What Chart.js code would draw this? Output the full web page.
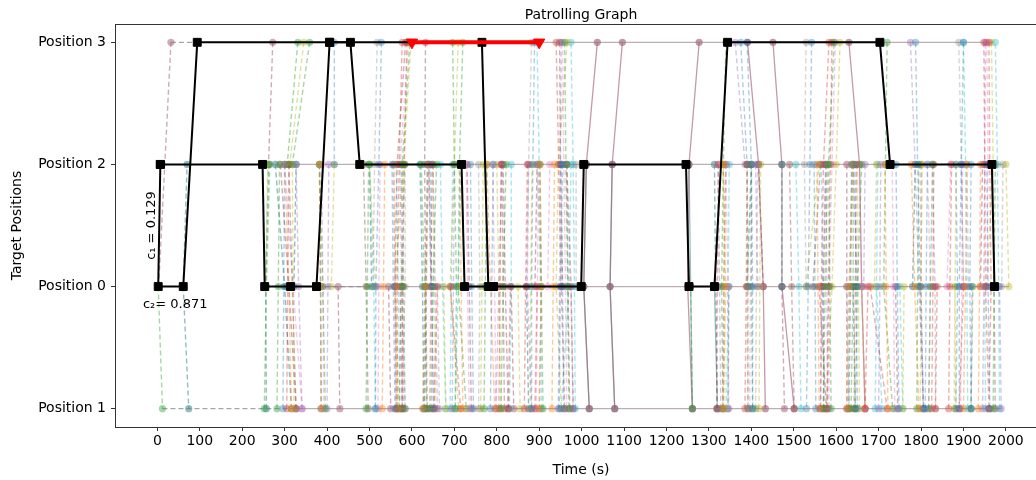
<!DOCTYPE html>
<html>
<head>
<meta charset="utf-8">
<script src="https://cdn.jsdelivr.net/npm/chart.js@4.4.1/dist/chart.umd.min.js"></script>
<style>
  html, body { margin: 0; padding: 0; background: #fff; overflow: hidden; }
  #wrap { width: 1036px; height: 480px; overflow: hidden; position: relative; }
  #chart { position: absolute; left: 0; top: 0; }
</style>
</head>
<body>
<div id="wrap"><canvas id="chart" width="1060" height="480"></canvas></div>
<script>
// Target rows, bottom to top (y index 0..3)
const positionLabels = ['Position 1', 'Position 0', 'Position 2', 'Position 3'];
const timeTicks = [0, 100, 200, 300, 400, 500, 600, 700, 800, 900, 1000,
                   1100, 1200, 1300, 1400, 1500, 1600, 1700, 1800, 1900, 2000];
const timeRange = [-99.85, 2096.85];

// Coverage probabilities of the two cycles
const c1 = 0.129;
const c2 = 0.871;

// Patrol route (two chains sharing the start at Position 2)
const routeA = [[7, 2], [2, 1], [61, 1], [94, 3], [406, 3], [765, 3], [780, 1], [792, 1]];
const routeB = [[7, 2], [248, 2], [253, 1], [314, 1], [375, 1], [406, 3], [455, 3], [477, 2],
                [717, 2], [724, 1], [792, 1], [999, 1], [1005, 2], [1246, 2], [1253, 1],
                [1313, 1], [1344, 3], [1703, 3], [1727, 2], [1967, 2], [1973, 1]];

// Attack window at Position 3
const attack = [[600, 3], [900, 3]];

// Sampled patrol transitions, one array per colour (null separates transitions)
const blueSweeps = [[417,3],[417,2],null,[528,3],[522,2],[515,1],[514,0],null,[889,3],[885,2],[882,1],[882,0],null,[955,2],[950,1],[947,0],null,
  [296,0],[298,1],[300,2],null,[560,0],[556,1],[553,2],null,[650,0],[647,1],[644,2],null,[745,0],[741,1],[738,2],null,[785,0],[788,1],[792,2],null,
  [958,0],[955,1],[952,2],null,
  [1375,3],[1390,2],[1392,1],[1392,0],null,[1390,3],[1400,2],[1403,1],[1403,0],null,[1542,3],[1538,2],[1534,1],[1530,0],null,
  [1787,3],[1792,2],[1798,1],[1806,0],null,[1882,2],[1886,1],[1882,0],null,[1900,3],[1895,2],[1890,1],[1890,0],null,[1918,2],[1915,1],[1918,0],null,
  [1552,0],[1550,1],[1548,2],null,[1650,0],[1647,1],[1644,2],null,[1748,0],[1744,1],[1741,2],null,[1810,0],[1812,1],[1815,2],null,[1962,0],[1958,1],[1955,2]];
const orangeSweeps = [[300,2],[310,1],[316,0],null,[386,0],[384,1],[382,2],null,[640,2],[632,1],[625,0],null,[777,2],[785,1],[795,0],null,[902,2],[905,1],[900,0],null,
  [530,0],[533,1],[536,2],null,[566,0],[562,1],[558,2],null,[720,0],[716,1],[713,2],null,[930,0],[933,1],[936,2],null,
  [1334,2],[1340,1],[1333,0],null,[1392,0],[1390,1],[1390,2],null,[1625,0],[1630,1],[1640,2],null,[1777,2],[1785,1],[1795,0],null,[1900,0],[1905,1],[1908,2],null,
  [1560,0],[1557,1],[1555,2],null,[1722,0],[1718,1],[1715,2],null,[1935,0],[1938,1],[1940,2]];
const greenSweeps = [[2,1],[12,0],null,[252,0],[257,1],[265,2],null,[331,3],[306,2],null,[359,3],[318,2],null,[396,0],[390,1],[382,2],null,
  [570,0],[575,1],[582,2],null,[622,2],[630,1],[635,0],null,[645,0],[650,1],[658,2],null,[696,3],[700,2],[705,1],[702,0],null,
  [720,3],[712,2],[709,1],[728,0],null,[810,0],[815,1],[822,2],null,[909,0],[905,1],[902,2],null,[960,3],[963,2],[967,1],[970,0],null,
  [282,0],[285,1],[288,2],null,[492,0],[495,1],[498,2],null,[584,0],[580,1],[577,2],[595,3],null,[770,0],[773,1],[776,2],null,
  [1261,0],[1257,1],null,[1340,3],[1334,2],[1330,1],[1333,0],null,[1403,0],[1400,1],[1400,2],null,[1570,0],[1574,1],[1580,2],null,
  [1635,0],[1640,1],[1640,2],null,[1645,0],[1650,1],[1660,2],null,[1720,3],[1716,2],[1712,1],[1733,0],null,[1818,0],[1822,1],[1827,2],null,
  [1918,0],[1922,1],null,[1970,0],[1972,1],[1975,2],null,[1588,0],[1585,1],[1582,2],[1595,3],null,[1790,0],[1792,1],[1795,2]];
const redSweeps = [[577,3],[570,2],[565,1],[566,0],null,[652,0],[660,1],null,[690,1],[715,0],null,[827,0],[832,1],null,[890,0],[895,1],null,
  [940,3],[946,2],[952,1],[960,0],null,[305,0],[307,1],[310,2],null,[588,3],[582,2],[578,1],[577,0],null,[642,0],[645,1],[648,2],null,
  [805,0],[808,1],[810,2],null,[865,0],[868,1],[872,2],null,
  [1583,3],[1570,2],[1565,1],[1563,0],null,[1590,3],[1586,2],[1582,1],[1578,0],null,[1668,0],[1675,1],null,
  [1680,1],[1720,0],null,[1834,0],[1838,1],null,[1900,1],[1890,0],null,[1948,3],[1950,2],[1952,1],[1960,0],null,[1960,3],[1962,2],[1965,1],[1960,0],null,
  [1318,0],[1320,1],[1322,2],null,[1385,0],[1388,1],[1390,2],null,[1642,0],[1645,1],[1648,2],null,[1825,0],[1828,1],[1830,2],null,[1865,0],[1868,1],[1872,2]];
const purpleSweeps = [[327,2],[333,1],[341,0],null,[556,2],[560,1],[563,0],null,[650,2],[655,1],[660,0],null,[798,0],[805,1],[812,2],null,
  [875,2],[872,1],[882,0],null,[975,1],[980,0],null,[400,0],[402,1],[404,2],null,[580,0],[577,1],[575,2],null,[695,0],[698,1],[700,2],null,
  [945,0],[948,1],[950,2],[952,3],null,
  [1362,3],[1385,2],null,[1410,2],[1415,1],null,[1563,0],[1568,1],[1575,2],null,
  [1640,2],[1650,1],null,[1668,2],[1665,1],null,[1775,3],[1786,2],[1795,1],[1806,0],null,[1827,2],[1833,1],null,[1895,2],[1900,1],null,
  [1920,1],[1918,0],null,[1989,0],[1985,1],null,[1328,0],[1325,1],[1322,2],null,[1580,0],[1578,1],[1576,2],null,[1700,0],[1703,1],[1705,2],null,
  [1945,0],[1948,1],[1950,2],[1952,3]];
const brownSweeps = [[310,2],[318,1],[327,0],null,[497,0],[492,1],[486,2],null,[585,3],[565,2],[560,1],[563,0],null,[948,3],[950,2],[955,1],null,
  [630,0],[634,1],[637,2],null,[818,0],[815,1],[812,2],null,[972,0],[968,1],[965,2],null,
  [1501,0],[1495,1],[1490,2],null,[1576,2],[1570,1],[1570,0],null,[1563,2],[1545,1],null,[1630,0],[1634,1],[1637,2],null,[1975,0],[1972,1],[1968,2]];
const pinkSweeps = [[300,2],[320,1],[341,0],null,[592,3],[572,2],[575,1],[584,0],null,[640,2],[645,1],[652,0],null,[790,2],[795,1],[798,0],null,
  [920,1],[925,2],null,[955,3],[958,2],[962,1],[965,0],null,[392,0],[390,1],[388,2],null,[520,0],[522,1],[525,2],null,[735,0],[731,1],[728,2],null,
  [893,0],[896,1],[898,2],null,
  [1347,0],[1345,1],[1340,2],null,[1598,3],[1590,2],[1583,1],[1583,0],null,
  [1655,2],[1660,1],[1668,0],null,[1815,2],[1822,1],[1818,0],null,[1861,1],[1870,2],null,[1955,3],[1958,2],[1955,1],null,
  [1396,0],[1398,1],[1400,2],null,[1738,0],[1735,1],[1732,2],null,[1893,0],[1896,1],[1898,2]];
const graySweeps = [[518,3],[512,2],[508,1],null,[584,2],[584,1],[577,0],null,[660,1],[665,0],null,[757,2],[760,1],[757,0],null,
  [882,3],[875,2],[870,1],null,[895,2],[905,1],[900,0],null,[987,2],[987,1],null,[1529,3],[1525,2],[1529,1],null,[1625,1],[1630,0],null,
  [1833,1],[1834,0],null,[1889,3],[1895,2],[1900,1],null,[1908,2],[1912,1],null,[1993,2],[1990,1],null,[1410,0],[1412,1],[1415,2]];
const oliveSweeps = [[255,1],[260,2],null,[345,3],[312,2],null,[417,2],[410,1],null,[514,1],[500,2],null,[598,3],[580,2],[560,1],[570,0],null,
  [709,3],[700,2],[690,1],[710,0],null,[675,1],[680,0],null,[800,2],[805,1],[810,0],null,[850,1],[855,0],null,[966,3],[945,2],[940,1],[952,0],null,
  [322,0],[320,1],[318,2],null,[655,0],[652,1],[650,2],null,[762,0],[765,1],[768,2],null,[878,0],[880,1],[883,2],null,
  [1529,1],[1560,2],null,[1609,3],[1600,2],[1590,1],[1577,0],null,[1660,1],[1668,0],null,[1695,2],[1690,1],null,[1760,1],[1757,0],null,
  [1880,1],[1882,0],null,[1966,3],[1970,2],[1955,1],null,[2007,1],[2000,2],null,[1338,0],[1336,1],[1334,2],null,[1418,0],[1420,1],[1422,2],null,
  [1655,0],[1652,1],[1650,2],null,[1798,0],[1800,1],[1803,2],null,[1878,0],[1880,1],[1883,2]];
const cyanSweeps = [[514,0],[510,1],[500,2],null,[702,0],[709,1],[715,2],null,[667,2],[672,1],[680,0],null,[834,2],[834,1],[830,0],null,
  [975,2],[970,1],[952,0],null,[572,0],[568,1],[563,2],null,[628,0],[632,1],[636,2],null,[690,0],[693,1],[696,2],null,[905,0],[903,1],[900,2],[895,3],null,
  [985,0],[983,1],[980,2],[975,3],null,
  [1517,0],[1512,1],[1505,2],null,[1695,1],[1708,0],null,[1757,0],[1750,1],null,[1952,0],[1950,1],null,[1342,0],[1345,1],[1348,2],null,
  [1572,0],[1568,1],[1565,2],null,[1628,0],[1632,1],[1636,2],null,[1692,0],[1695,1],[1698,2],null,[1910,0],[1908,1],[1905,2],[1900,3],null,
  [1985,0],[1983,1],[1980,2],[1975,3]];
const tealSweeps = [[61,1],[70,2],null,[61,1],[74,0],null,[257,0],[255,1],[262,2],null,[278,2],[300,1],[316,0],null,[322,1],[327,2],null,
  [382,2],[385,1],[386,0],null,[500,2],[505,1],null,[619,2],[625,1],[628,0],null,[645,1],[640,2],null,[870,1],[875,0],null,
  [1313,2],[1316,1],[1320,0],null,[1347,1],[1345,0],null,[1400,2],[1390,1],null,[1472,2],[1472,1],null,[1640,1],[1645,0],null,[1780,1],[1786,2]];
const mauveSweeps = [[3,1],[32,3],null,[272,3],[262,2],null,[290,2],[310,1],[327,0],null,[426,1],[430,0],null,[545,1],[550,0],null,
  [577,0],[572,1],null,[632,3],[630,2],[632,1],[636,0],null,[740,0],[735,1],[730,2],null,[815,2],[820,1],[827,0],null,[834,1],[840,0],null,
  [890,1],[895,2],null,[965,2],[975,1],[980,0],null,[1333,0],[1335,1],[1340,2],null,[1390,2],[1417,2],[1428,1],null,[1472,1],[1478,0],null,
  [1560,1],[1577,0],null,[1625,2],[1625,1],[1625,0],null,[1740,1],[1745,0],null,[1800,2],[1800,1],[1805,0],null,[1940,1],[1945,2]];

// Undashed transitions
const mauveDrops = [[1037,3],[1011,2],[1005,1],[1018,0],null,[1096,3],[1072,2],[1067,1],[1078,0],null,[1277,3],[1253,2],[1250,1],[1261,0],null,
  [1391,3],[1417,2],[1428,1],[1433,0],null,[1451,3],[1472,2],[1472,1],[1501,0],null,[1630,3],[1655,2],[1660,1],[1668,0]];
const tealDrops = [[1011,2],[1005,1],[1018,0],null,[1072,2],[1067,1],[1078,0],null,[1253,2],[1257,1],[1261,0],null,[1313,1],[1320,0]];

// Waiting along a row: [start, end, row]
const rowRuns = [[316,1989,0],[375,2007,1],[248,1993,2],[765,1970,3]];
const dashedRuns = [[12,316,0],[32,94,3],[375,486,1]];

const runsToPts = runs => runs.flatMap(r => [[r[0], r[2]], [r[1], r[2]], null]);

const fadedSeries = [
  { pts: runsToPts(rowRuns),    color: 'rgba(150,118,125,0.6)', dash: [], width: 1.3, radius: 0 },
  { pts: runsToPts(dashedRuns), color: 'rgba(110,120,130,0.65)', dash: [5, 3], width: 1.3, radius: 0 },
  { pts: blueSweeps,   color: 'rgba(31,119,180,0.36)' },
  { pts: orangeSweeps, color: 'rgba(255,127,14,0.42)' },
  { pts: greenSweeps,  color: 'rgba(44,160,44,0.42)' },
  { pts: redSweeps,    color: 'rgba(214,39,40,0.38)' },
  { pts: purpleSweeps, color: 'rgba(148,103,189,0.38)' },
  { pts: brownSweeps,  color: 'rgba(140,86,75,0.44)' },
  { pts: pinkSweeps,   color: 'rgba(227,119,194,0.40)' },
  { pts: graySweeps,   color: 'rgba(127,127,127,0.32)' },
  { pts: oliveSweeps,  color: 'rgba(188,189,34,0.44)' },
  { pts: cyanSweeps,   color: 'rgba(23,190,207,0.38)' },
  { pts: tealSweeps,   color: 'rgba(60,135,140,0.55)' },
  { pts: mauveSweeps,  color: 'rgba(165,85,115,0.50)' },
  { pts: mauveDrops,   color: 'rgba(160,90,115,0.62)', dash: [], width: 1.3 },
  { pts: tealDrops,    color: 'rgba(70,140,140,0.55)', dash: [], width: 1.3 }
];

const toXY = pts => pts.map(p => p ? { x: p[0], y: p[1] } : { x: null, y: null });

const datasets = [];
datasets.push({
  data: toXY(attack), showLine: true, order: 0,
  borderColor: '#ff0000', borderWidth: 4,
  pointStyle: 'triangle', rotation: 180, pointRadius: 6.5,
  pointBackgroundColor: '#ff0000', pointBorderColor: '#ff0000', pointBorderWidth: 1
});
[routeA, routeB].forEach(r => datasets.push({
  data: toXY(r), showLine: true, order: 1,
  borderColor: '#000', borderWidth: 2,
  pointStyle: 'rect', pointRadius: 5.6,
  pointBackgroundColor: '#000', pointBorderColor: '#000', pointBorderWidth: 1
}));
fadedSeries.forEach((s, i) => datasets.push({
  data: toXY(s.pts), showLine: true, order: 2 + i, spanGaps: false,
  borderColor: s.color, borderWidth: s.width || 1.4, borderDash: s.dash || [5, 3],
  pointStyle: 'circle', pointRadius: s.radius === 0 ? 0 : 3.6,
  pointBackgroundColor: s.color, pointBorderWidth: 0
}));

const FONT = 'DejaVu Sans';

const textPlugin = {
  id: 'texts',
  afterDraw(chart) {
    const { ctx, chartArea: a, scales: { x, y } } = chart;
    ctx.save();
    // top spine (right spine lies past the visible edge)
    ctx.strokeStyle = '#333';
    ctx.lineWidth = 1;
    ctx.beginPath();
    ctx.moveTo(a.left, a.top + 0.5);
    ctx.lineTo(a.right, a.top + 0.5);
    ctx.lineTo(a.right, a.bottom);
    ctx.stroke();
    ctx.fillStyle = '#000';
    ctx.font = '14px "' + FONT + '"';
    const cx = (a.left + a.right) / 2;
    ctx.textAlign = 'center';
    ctx.textBaseline = 'alphabetic';
    ctx.fillText('Patrolling Graph', cx, 19);
    ctx.textBaseline = 'middle';
    ctx.fillText('Time (s)', cx, 470);
    ctx.save();
    ctx.translate(17, (a.top + a.bottom) / 2);
    ctx.rotate(-Math.PI / 2);
    ctx.fillText('Target Positions', 0, 0);
    ctx.restore();
    // cycle probabilities
    ctx.font = '13px "' + FONT + '"';
    ctx.save();
    ctx.translate(x.getPixelForValue(-13), y.getPixelForValue(1.5));
    ctx.rotate(-Math.PI / 2);
    ctx.textAlign = 'center';
    ctx.fillText('c\u2081 = ' + c1.toFixed(3), 0, 0);
    ctx.restore();
    ctx.textAlign = 'left';
    ctx.fillText('c\u2082= ' + c2.toFixed(3), x.getPixelForValue(-34), y.getPixelForValue(0.855));
    ctx.restore();
  }
};

new Chart(document.getElementById('chart'), {
  type: 'scatter',
  data: { datasets },
  options: {
    responsive: false,
    animation: false,
    devicePixelRatio: 1,
    layout: { padding: { top: 24, right: 13, left: 0, bottom: 0 } },
    plugins: { legend: { display: false }, tooltip: { enabled: false }, title: { display: false } },
    elements: { line: { tension: 0 } },
    scales: {
      x: {
        type: 'linear', min: timeRange[0], max: timeRange[1],
        afterFit: s => { s.height = 53; },
        afterBuildTicks: s => { s.ticks = timeTicks.map(v => ({ value: v })); },
        grid: { drawOnChartArea: false, drawTicks: true, tickLength: 4, color: '#333' },
        border: { display: true, color: '#333', width: 1 },
        ticks: { color: '#000', font: { family: FONT, size: 14 }, padding: 2, maxRotation: 0, autoSkip: false,
                 callback: v => String(v) }
      },
      y: {
        type: 'linear', min: -0.15, max: 3.15,
        afterFit: s => { s.width = 115; },
        afterBuildTicks: s => { s.ticks = positionLabels.map((_, i) => ({ value: i })); },
        grid: { drawOnChartArea: false, drawTicks: true, tickLength: 4, color: '#333' },
        border: { display: true, color: '#333', width: 1 },
        ticks: { color: '#000', font: { family: FONT, size: 14 }, padding: 5,
                 callback: v => positionLabels[v] }
      }
    }
  },
  plugins: [textPlugin]
});
</script>
</body>
</html>
